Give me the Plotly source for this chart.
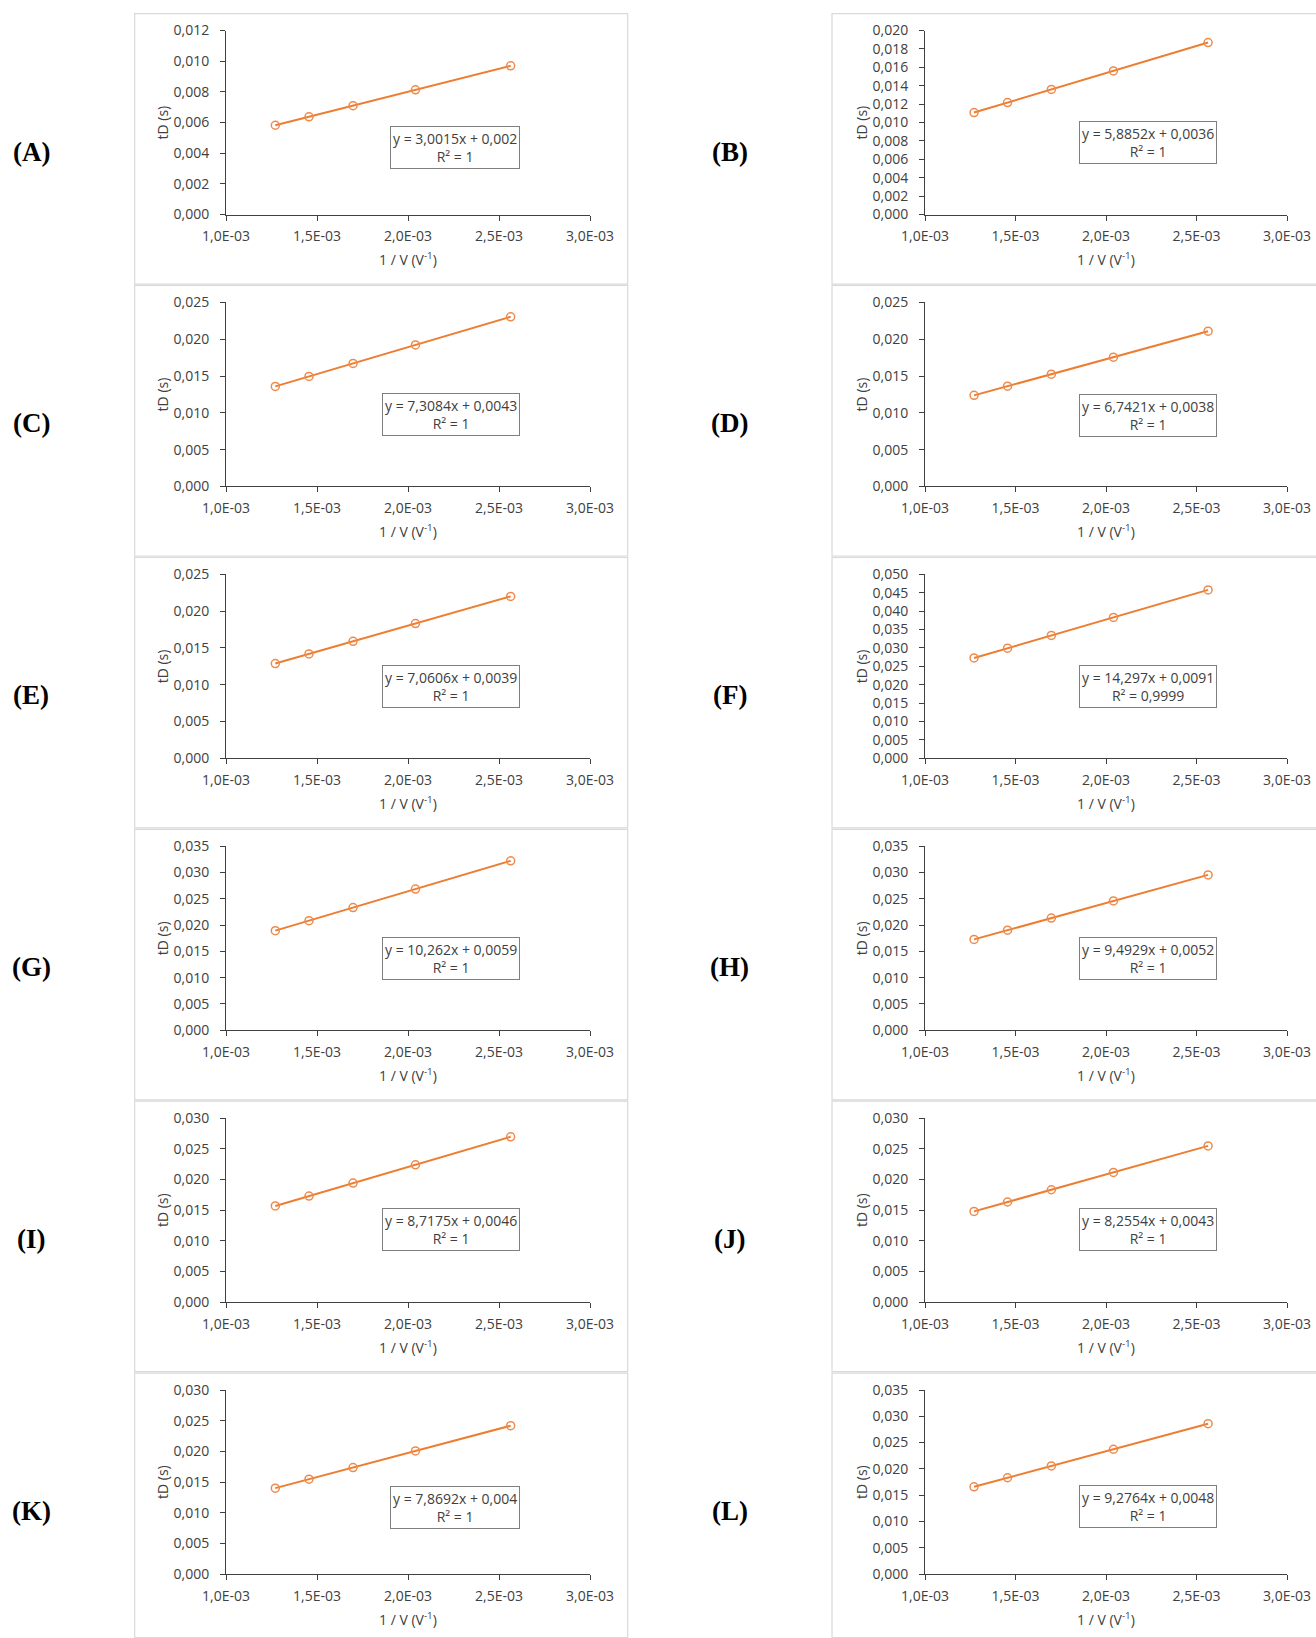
import plotly.graph_objects as go

W, H = 1316, 1638

# ---------------- data ----------------
inv_v = [1.271e-3, 1.456e-3, 1.698e-3, 2.041e-3, 2.564e-3]   # 1/V (V^-1)

panel_labels = ["(A)", "(B)", "(C)", "(D)", "(E)", "(F)",
                "(G)", "(H)", "(I)", "(J)", "(K)", "(L)"]

td_A = [0.00582, 0.00637, 0.00710, 0.00813, 0.00970]
td_B = [0.01108, 0.01217, 0.01359, 0.01561, 0.01869]
td_C = [0.01359, 0.01494, 0.01671, 0.01922, 0.02304]
td_D = [0.01237, 0.01362, 0.01525, 0.01756, 0.02109]
td_E = [0.01287, 0.01418, 0.01589, 0.01831, 0.02200]
td_F = [0.02727, 0.02992, 0.03338, 0.03828, 0.04576]
td_G = [0.01894, 0.02084, 0.02332, 0.02684, 0.03221]
td_H = [0.01727, 0.01902, 0.02132, 0.02458, 0.02954]
td_I = [0.01568, 0.01729, 0.01940, 0.02239, 0.02695]
td_J = [0.01479, 0.01632, 0.01832, 0.02115, 0.02547]
td_K = [0.01400, 0.01546, 0.01736, 0.02006, 0.02418]
td_L = [0.01659, 0.01831, 0.02055, 0.02373, 0.02859]

equations = ["y = 3,0015x + 0,002", "y = 5,8852x + 0,0036", "y = 7,3084x + 0,0043",
             "y = 6,7421x + 0,0038", "y = 7,0606x + 0,0039", "y = 14,297x + 0,0091",
             "y = 10,262x + 0,0059", "y = 9,4929x + 0,0052", "y = 8,7175x + 0,0046",
             "y = 8,2554x + 0,0043", "y = 7,8692x + 0,004", "y = 9,2764x + 0,0048"]
r_squared = ["R² = 1", "R² = 1", "R² = 1", "R² = 1", "R² = 1", "R² = 0,9999",
             "R² = 1", "R² = 1", "R² = 1", "R² = 1", "R² = 1", "R² = 1"]

y_max = [0.012, 0.020, 0.025, 0.025, 0.025, 0.050,
         0.035, 0.035, 0.030, 0.030, 0.030, 0.035]
y_step = [0.002, 0.002, 0.005, 0.005, 0.005, 0.005,
          0.005, 0.005, 0.005, 0.005, 0.005, 0.005]

x_tick_vals = [1.0e-3, 1.5e-3, 2.0e-3, 2.5e-3, 3.0e-3]
x_tick_text = ["1,0E-03", "1,5E-03", "2,0E-03", "2,5E-03", "3,0E-03"]

y_title = "tD (s)"
x_title = "1 / V (V<sup>-1</sup>)"

series = [td_A, td_B, td_C, td_D, td_E, td_F, td_G, td_H, td_I, td_J, td_K, td_L]

# equation box vertical centre (fraction of plot height)
box_yfrac = [0.364, 0.394, 0.392, 0.386, 0.392, 0.392,
             0.389, 0.389, 0.392, 0.392, 0.364, 0.366]

# ---------------- layout geometry ----------------
ORANGE = "#ED7D31"
AXC = "#404040"
TXT = "#404040"
FONT = "Open Sans"

col_x = [(226, 590), (925, 1287)]
label_x = [31, 730]
frame_x = [(134.7, 627.7), (832.0, 1330.0)]
ZERO0, PITCH, PH = 214.5, 271.9, 184.0


def px(x):
    return x / W


def py(y):
    return 1 - y / H


fig = go.Figure()
annotations = []
shapes = []
layout_axes = {}

for i, ys in enumerate(series):
    row, col = divmod(i, 2)
    n = i + 1
    xs = "x" if n == 1 else f"x{n}"
    yss = "y" if n == 1 else f"y{n}"
    xa = "xaxis" if n == 1 else f"xaxis{n}"
    ya = "yaxis" if n == 1 else f"yaxis{n}"

    x0, x1 = col_x[col]
    zero = ZERO0 + PITCH * row
    top = zero - PH

    fig.add_trace(go.Scatter(
        x=inv_v, y=ys, mode="lines+markers",
        line=dict(color=ORANGE, width=2),
        marker=dict(symbol="circle-open", size=8, color="#F08A4B", line=dict(width=1.5)),
        xaxis=xs, yaxis=yss, showlegend=False, hoverinfo="x+y"))

    layout_axes[xa] = dict(
        domain=[px(x0), px(x1)], anchor=yss, range=[1.0e-3, 3.0e-3],
        tickvals=x_tick_vals, ticktext=x_tick_text, automargin=False,
        showgrid=False, zeroline=False, showline=True, linecolor=AXC, linewidth=1,
        ticks="outside", ticklen=5, tickcolor=AXC, tickwidth=1,
        ticklabelstandoff=4,
        tickfont=dict(family=FONT, size=14, color=TXT), fixedrange=True)
    layout_axes[ya] = dict(
        domain=[py(zero), py(top)], anchor=xs, range=[0, y_max[i] * 1.00001],
        tick0=0, dtick=y_step[i], tickformat=".3f", automargin=False,
        showgrid=False, zeroline=False, showline=True, linecolor=AXC, linewidth=1,
        ticks="outside", ticklen=5, tickcolor=AXC, tickwidth=1,
        ticklabelstandoff=8,
        tickfont=dict(family=FONT, size=14, color=TXT), fixedrange=True)

    # equation box
    annotations.append(dict(
        xref=f"{xs} domain", yref=f"{yss} domain", x=0.808, y=box_yfrac[i],
        xanchor="right", yanchor="middle", showarrow=False, align="center",
        text=f"{equations[i]}<br>{r_squared[i]}",
        font=dict(family=FONT, size=14, color=TXT),
        bordercolor="#7f7f7f", borderwidth=1, borderpad=2, bgcolor="white"))

    # axis titles
    annotations.append(dict(
        xref="paper", yref="paper", x=px(x0 - 64), y=py((zero + top) / 2),
        xanchor="center", yanchor="middle", textangle=-90, showarrow=False,
        text=y_title, font=dict(family=FONT, size=14, color=TXT)))
    annotations.append(dict(
        xref="paper", yref="paper", x=px((x0 + x1) / 2), y=py(zero + 44.5),
        xanchor="center", yanchor="middle", showarrow=False,
        text=x_title, font=dict(family=FONT, size=14, color=TXT)))

    # panel label
    annotations.append(dict(
        xref="paper", yref="paper", x=px(label_x[col]), y=py(zero - 63),
        xanchor="center", yanchor="middle", showarrow=False,
        text=f"<b>{panel_labels[i]}</b>",
        font=dict(family="Liberation Serif", size=27, color="black")))

    # chart frame
    fx0, fx1 = frame_x[col]
    fy0 = 13.6 + PITCH * row
    fy1 = min(fy0 + 270.5, H - 0.5)
    shapes.append(dict(
        type="rect", xref="paper", yref="paper",
        x0=px(fx0), x1=px(fx1), y0=py(fy1), y1=py(fy0),
        line=dict(color="#d9d9d9", width=1.2), fillcolor="rgba(0,0,0,0)", layer="below"))

fig.update_layout(
    template="none",
    width=W, height=H, margin=dict(l=0, r=0, t=0, b=0, pad=0),
    paper_bgcolor="white", plot_bgcolor="white",
    separators=",.", showlegend=False,
    annotations=annotations, shapes=shapes,
    **layout_axes)

fig.write_html("out.html",
               config={"displayModeBar": False},
               post_script="document.body.style.margin='0px';document.body.style.padding='0px';"
                           "document.body.style.overflow='hidden';")
